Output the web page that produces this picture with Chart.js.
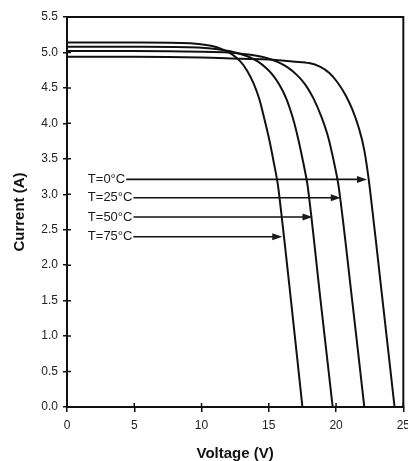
<!DOCTYPE html>
<html>
<head>
<meta charset="utf-8">
<script src="https://cdn.jsdelivr.net/npm/chart.js@4.4.0/dist/chart.umd.min.js"></script>
<style>
  html, body { margin: 0; padding: 0; background: #fff; overflow: hidden; }
  #wrap { position: relative; width: 416px; height: 461px; }
</style>
</head>
<body>
<div id="wrap"><canvas id="ivChart"></canvas></div>
<script>
// I-V curves, one pair of arrays per temperature
const voltage0 = [0, 5, 10, 13, 15, 17.0, 18.0, 18.8, 19.5, 20.1, 20.7, 21.2, 21.7, 22.1, 22.5, 23.4, 24.35];
const current0 = [4.94, 4.94, 4.93, 4.91, 4.9, 4.87, 4.85, 4.8, 4.71, 4.58, 4.4, 4.2, 3.93, 3.62, 3.1, 1.6, 0];

const voltage25 = [0, 5, 10, 12, 13.5, 14.7, 15.6, 16.4, 17.1, 17.7, 18.3, 18.9, 19.35, 19.7, 20.2, 21.2, 22.1];
const current25 = [5.02, 5.02, 5.01, 5.0, 4.97, 4.93, 4.87, 4.79, 4.68, 4.55, 4.36, 4.1, 3.85, 3.58, 3.1, 1.5, 0];

const voltage50 = [0, 5, 9, 10.5, 11.7, 12.7, 13.5, 14.2, 14.8, 15.3, 15.8, 16.3, 16.75, 17.1, 17.45, 17.9, 18.85, 19.75];
const current50 = [5.08, 5.08, 5.075, 5.06, 5.03, 4.99, 4.94, 4.87, 4.78, 4.68, 4.54, 4.35, 4.1, 3.85, 3.55, 3.1, 1.5, 0];

const voltage75 = [0, 5, 8.5, 9.8, 10.8, 11.6, 12.3, 12.9, 13.4, 13.9, 14.3, 14.65, 15.0, 15.35, 15.7, 16.65, 17.5];
const current75 = [5.14, 5.14, 5.135, 5.12, 5.09, 5.04, 4.97, 4.87, 4.74, 4.55, 4.34, 4.08, 3.8, 3.47, 3.1, 1.5, 0];

// annotation labels and where their arrows point
const tempLabels = ['T=0°C', 'T=25°C', 'T=50°C', 'T=75°C'];
const arrowCurrent = [3.21, 2.95, 2.68, 2.4];
const arrowVoltage = [22.3, 20.35, 18.25, 16.0];

const xTicks = [0, 5, 10, 15, 20, 25];
const yTicks = [0, 0.5, 1, 1.5, 2, 2.5, 3, 3.5, 4, 4.5, 5, 5.5];

function toPoints(vs, is) {
    return vs.map((v, i) => ({ x: v, y: is[i] }));
}

function curve(vs, is) {
    return {
        data: toPoints(vs, is),
        showLine: true,
        borderColor: '#111',
        borderWidth: 2,
        pointRadius: 0,
        fill: false,
        tension: 0.3
    };
}

const labelVoltage = 1.55;

const annotate = {
    id: 'annotate',
    afterDatasetsDraw(chart) {
        const { ctx, chartArea: a, scales: { x, y } } = chart;
        ctx.save();
        ctx.strokeStyle = '#111';

        // top and right frame
        ctx.lineWidth = 2;
        ctx.beginPath();
        ctx.moveTo(a.left, a.top);
        ctx.lineTo(a.right, a.top);
        ctx.lineTo(a.right, a.bottom);
        ctx.stroke();

        // inner half of the tick marks
        ctx.lineWidth = 1.5;
        ctx.beginPath();
        x.ticks.forEach(t => {
            const px = x.getPixelForValue(t.value);
            ctx.moveTo(px, a.bottom);
            ctx.lineTo(px, a.bottom - 4);
        });
        y.ticks.forEach(t => {
            const py = y.getPixelForValue(t.value);
            ctx.moveTo(a.left, py);
            ctx.lineTo(a.left + 4, py);
        });
        ctx.stroke();

        // labels with arrows
        ctx.font = '13px "Liberation Sans", Arial, sans-serif';
        ctx.fillStyle = '#1a1a1a';
        ctx.textBaseline = 'middle';
        ctx.lineWidth = 1.6;
        tempLabels.forEach((lab, i) => {
            const py = y.getPixelForValue(arrowCurrent[i]);
            const x0 = x.getPixelForValue(labelVoltage);
            ctx.fillText(lab, x0, py);
            const start = x0 + ctx.measureText(lab).width + 1;
            const tip = x.getPixelForValue(arrowVoltage[i]);
            ctx.beginPath();
            ctx.moveTo(start, py);
            ctx.lineTo(tip - 8, py);
            ctx.stroke();
            ctx.beginPath();
            ctx.moveTo(tip, py);
            ctx.lineTo(tip - 10, py - 3.5);
            ctx.lineTo(tip - 10, py + 3.5);
            ctx.closePath();
            ctx.fill();
        });
        ctx.restore();
    }
};

new Chart(document.getElementById('ivChart').getContext('2d'), {
    type: 'scatter',
    data: {
        datasets: [
            curve(voltage0, current0),
            curve(voltage25, current25),
            curve(voltage50, current50),
            curve(voltage75, current75)
        ]
    },
    options: {
        responsive: true,
        maintainAspectRatio: false,
        devicePixelRatio: 1,
        animation: false,
        layout: { padding: { top: 17, right: 10, bottom: 0, left: 0 } },
        plugins: {
            legend: { display: false },
            tooltip: { enabled: false }
        },
        scales: {
            x: {
                type: 'linear',
                min: 0,
                max: 25,
                afterBuildTicks: s => { s.ticks = xTicks.map(v => ({ value: v })); },
                afterFit: s => { s.height = 54; },
                ticks: {
                    color: '#222',
                    padding: 6,
                    font: { family: '"Liberation Sans", Arial, sans-serif', size: 12 }
                },
                grid: { drawOnChartArea: false, tickLength: 5, color: '#111', lineWidth: 1.5 },
                border: { display: true, color: '#111', width: 2 },
                title: {
                    display: true,
                    text: 'Voltage (V)',
                    color: '#111',
                    padding: { top: 0, bottom: 0 },
                    font: { family: '"Liberation Sans", Arial, sans-serif', size: 15, weight: 'bold', lineHeight: 1 }
                }
            },
            y: {
                type: 'linear',
                min: 0,
                max: 5.5,
                afterBuildTicks: s => { s.ticks = yTicks.map(v => ({ value: v })); },
                afterFit: s => { s.width = 67; },
                ticks: {
                    color: '#222',
                    padding: 5,
                    callback: v => v.toFixed(1),
                    font: { family: '"Liberation Sans", Arial, sans-serif', size: 12 }
                },
                grid: { drawOnChartArea: false, tickLength: 4, color: '#111', lineWidth: 1.5 },
                border: { display: true, color: '#111', width: 2 },
                title: {
                    display: true,
                    text: 'Current (A)',
                    color: '#111',
                    padding: { top: 12, bottom: 0 },
                    font: { family: '"Liberation Sans", Arial, sans-serif', size: 15, weight: 'bold', lineHeight: 1 }
                }
            }
        }
    },
    plugins: [annotate]
});
</script>
</body>
</html>
